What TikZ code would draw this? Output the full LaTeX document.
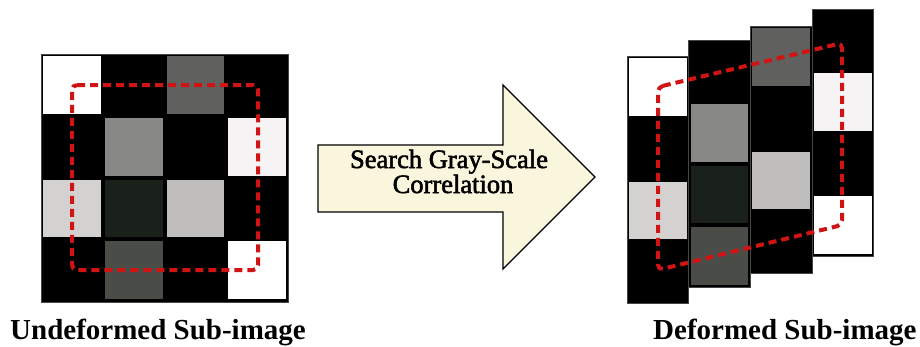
\documentclass[tikz,border=0pt]{standalone}
\usepackage{fontspec}
\setmainfont{Liberation Serif}
\newfontfamily\arrowfont[FakeBold=2]{Liberation Serif}
\definecolor{gA}{RGB}{96,96,94}
\definecolor{gB}{RGB}{136,136,134}
\definecolor{wB}{RGB}{245,243,243}
\definecolor{lA}{RGB}{212,210,208}
\definecolor{dG}{RGB}{26,32,26}
\definecolor{lB}{RGB}{192,190,188}
\definecolor{dA}{RGB}{74,76,72}
\definecolor{redd}{RGB}{208,20,20}
\definecolor{cream}{RGB}{250,246,222}
\definecolor{frameg}{RGB}{70,70,70}
\tikzset{
  framebox/.style={fill=black, draw=frameg, line width=1pt},
  reddash/.style={draw=redd, line width=4pt, dash pattern=on 8pt off 5pt, rounded corners=5pt},
  arrowbox/.style={fill=cream, draw=black, line width=1.3pt, line join=miter},
  lbl/.style={font=\fontsize{29}{32}\selectfont\bfseries, anchor=base west, inner sep=0pt},
  atext/.style={font=\arrowfont\fontsize{26.5}{29}\selectfont, anchor=base, inner sep=0pt}
}
\begin{document}
\begin{tikzpicture}[x=1pt,y=-1pt]
\useasboundingbox (0,0) rectangle (920,346);
\fill[white] (0,0) rectangle (920,346);
% undeformed grid
\draw[framebox] (41,54) rectangle (288,302);
\foreach \c/\r/\col in {0/0/white,2/0/gA,1/1/gB,3/1/wB,0/2/lA,1/2/dG,2/2/lB,1/3/dA,3/3/white}{
  \fill[\col] ({41+\c*61.75+2},{54+\r*61.75+2}) rectangle ++(57.75,57.75);
}
\draw[reddash] (72,85) -- (258,85) -- (258,270) -- (72,270) -- cycle;
% deformed columns
\foreach \c/\t in {0/56,1/40,2/26,3/9}{
  \draw[framebox] ({627+\c*61.7},\t) rectangle ++(61.7,247);
}
\foreach \c/\r/\col/\t in {0/0/white/56,0/2/lA/56,1/1/gB/40,1/2/dG/40,1/3/dA/40,2/0/gA/26,2/2/lB/26,3/1/wB/9,3/3/white/9}{
  \fill[\col] ({627+\c*61.7+2},{\t+\r*61.75+2}) rectangle ++(57.7,57.75);
}
\draw[reddash] (658,87) -- (842,43) -- (842,225) -- (658,270) -- cycle;
% arrow
\draw[arrowbox] (318,145) -- (503,145) -- (503,85) -- (595,177) -- (503,269) -- (503,212) -- (318,212) -- cycle;
\node[atext] (t1) at (449,168) {Search Gray-Scale};
\node[atext] (t2) at (453,193) {Correlation};
% labels
\node[lbl] (l1) at (10,339) {Undeformed Sub-image};
\node[lbl] (l2) at (653,339) {Deformed Sub-image};
\end{tikzpicture}
\end{document}
